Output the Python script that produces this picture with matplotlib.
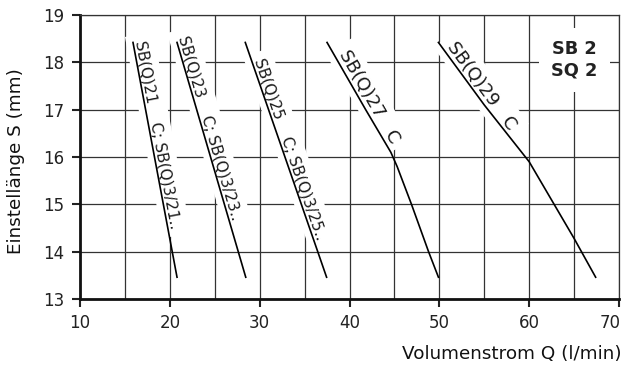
import numpy as np
import matplotlib
matplotlib.use('Agg')
import matplotlib.pyplot as plt
from matplotlib.transforms import offset_copy

plt.rcParams['font.family'] = ['DejaVu Sans']

# curves: flow Q (l/min) vs setting length S (mm)
q21 = [15.9, 20.8]
s21 = [18.42, 13.46]
q23 = [20.8, 28.45]
s23 = [18.42, 13.46]
q25 = [28.4, 37.45]
s25 = [18.42, 13.46]
q27 = [37.5, 41.8, 44.6, 45.3, 46.9, 48.8, 49.9]
s27 = [18.42, 17.0, 16.1, 15.8, 15.0, 14.0, 13.46]
q29 = [49.9, 55.0, 60.0, 65.0, 67.4]
s29 = [18.42, 17.1, 15.9, 14.28, 13.46]

labels = ['SB(Q)21    C; SB(Q)3/21..', 'SB(Q)23    C; SB(Q)3/23..',
          'SB(Q)25    C; SB(Q)3/25..', 'SB(Q)27   C', 'SB(Q)29   C']
label_start = [0.0, -0.02, 0.08, 0.2, 0.1]
label_size = [11, 11, 11, 13, 13]

xticks = [10, 20, 30, 40, 50, 60, 70]
xticklabels = ['10', '20', '30', '40', '50', '60', '70']
yticks = [13, 14, 15, 16, 17, 18, 19]

fig = plt.figure(figsize=(6.23, 3.67), dpi=100)
ax = fig.add_axes([80/623, 1-299/367, 539/623, 284/367])
ax.set_xlim(10, 70)
ax.set_ylim(13, 19)
ax.set_xticks(xticks)
# the last label is drawn flush right below, so leave it empty here
ax.set_xticklabels(xticklabels[:-1] + [''])
ax.set_xticks(np.arange(15, 70, 10), minor=True)
ax.set_yticks(yticks)
ax.grid(True, which='both', color='#333333', lw=0.9, zorder=0)
ax.set_axisbelow(True)
ax.tick_params(which='major', direction='out', length=5.5, width=1.5,
               labelsize=12, colors='#222222')
ax.tick_params(axis='y', pad=5.5)
ax.tick_params(axis='x', pad=5)
ax.tick_params(which='minor', length=0)
for s in ['top', 'right']:
    ax.spines[s].set_linewidth(0.9)
    ax.spines[s].set_color('#333333')
for s in ['left', 'bottom']:
    ax.spines[s].set_linewidth(2.0)
    ax.spines[s].set_color('#111111')

tr = offset_copy(ax.get_xaxis_transform(), fig=fig, x=1, y=-10.5, units='points')
ax.text(xticks[-1], 0, xticklabels[-1], transform=tr, ha='right', va='top',
        fontsize=12, color='#222222', clip_on=False)

curves = [(q21, s21), (q23, s23), (q25, s25), (q27, s27), (q29, s29)]
for (q, s), lab, t, fs in zip(curves, labels, label_start, label_size):
    ax.plot(q, s, color='black', lw=1.2, zorder=5)
    ang = np.degrees(np.arctan2(s[1] - s[0], q[1] - q[0]))
    x0 = q[0] + t * (q[1] - q[0])
    y0 = s[0] + t * (s[1] - s[0])
    ax.text(x0, y0, lab, rotation=ang, transform_rotates_text=True,
            rotation_mode='anchor', ha='left', va='bottom', fontsize=fs,
            color='#1a1a1a', zorder=3,
            bbox=dict(facecolor='white', edgecolor='none', pad=5))

ax.text(65, 18.05, 'SB 2\nSQ 2', ha='center', va='center', fontsize=12.8,
        fontweight='bold', color='#222222', linespacing=1.25, zorder=3,
        bbox=dict(facecolor='white', edgecolor='none', pad=9))

ax.set_ylabel('Einstellänge S (mm)', fontsize=13.2, color='#111111')
ax.set_xlabel('Volumenstrom Q (l/min)', fontsize=13.2, color='#111111')
ax.yaxis.set_label_coords(-0.1027, 0.486)
ax.xaxis.set_label_coords(1.0056, -0.162)
ax.xaxis.label.set_ha('right')

fig.savefig('out.png', dpi=100)
